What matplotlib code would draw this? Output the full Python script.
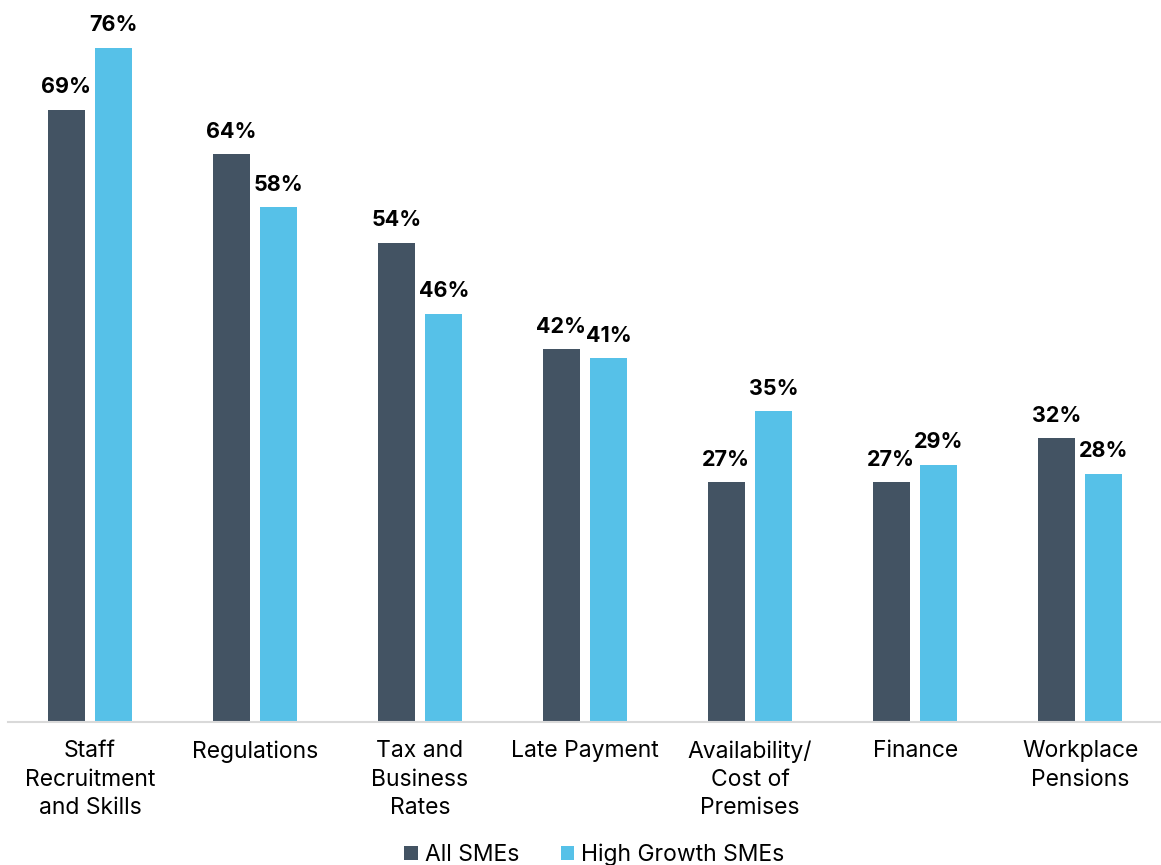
import matplotlib
matplotlib.use('Agg')
import matplotlib.pyplot as plt
import numpy as np

categories = ['Staff\nRecruitment\nand Skills', 'Regulations', 'Tax and\nBusiness\nRates',
              'Late Payment', 'Availability/\nCost of\nPremises', 'Finance', 'Workplace\nPensions']
all_smes = [69, 64, 54, 42, 27, 27, 32]
high_growth = [76, 58, 46, 41, 35, 29, 28]
series_names = ['All SMEs', 'High Growth SMEs']
colors = ['#435363', '#56C1E8']

plt.rcParams['font.family'] = ['Inter', 'DejaVu Sans']

fig = plt.figure(figsize=(11.61, 8.65), dpi=100)
ax = fig.add_axes([8 / 1161, 143 / 865, 1 - 8 / 1161, (722 - 12) / 865])

x = np.arange(len(categories))
w = 0.224
off = 0.144
b1 = ax.bar(x - off, all_smes, w, color=colors[0], label=series_names[0])
b2 = ax.bar(x + off, high_growth, w, color=colors[1], label=series_names[1])

for bars, vals in [(b1, all_smes), (b2, high_growth)]:
    for rect, v in zip(bars, vals):
        ax.annotate('{}%'.format(v), (rect.get_x() + rect.get_width() / 2, v),
                    xytext=(0, 9), textcoords='offset points',
                    ha='center', va='bottom', fontsize=15.5, fontweight='bold')

ax.set_xlim(-0.497, 6.49)
ax.set_ylim(0, 80)
ax.set_xticks(x)
ax.set_xticklabels(categories, fontsize=16.5, linespacing=1.38)
ax.tick_params(axis='x', length=0, pad=13)
ax.set_yticks([])
for s in ['top', 'right', 'left']:
    ax.spines[s].set_visible(False)
ax.spines['bottom'].set_color('#d9d9d9')
ax.spines['bottom'].set_linewidth(1.5)

fig.legend(loc='lower center', bbox_to_anchor=(0.512, -0.025), ncol=2, frameon=False,
           fontsize=16.5, handlelength=0.6, handleheight=0.6, handletextpad=0.3,
           columnspacing=1.8)

fig.savefig('out.png', dpi=100)
